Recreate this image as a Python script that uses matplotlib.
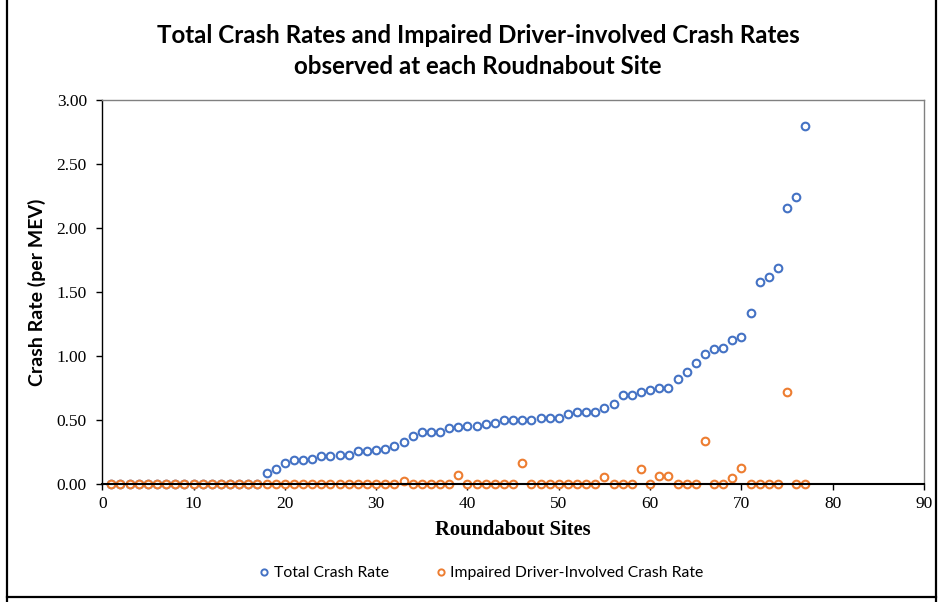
import matplotlib
matplotlib.use("Agg")
import matplotlib.pyplot as plt
from matplotlib.lines import Line2D

sites = list(range(1, 78))
total_rate = [0.0] * 17 + [
    0.09, 0.12, 0.17, 0.19, 0.19, 0.20, 0.22, 0.22, 0.23, 0.23,
    0.26, 0.26, 0.27, 0.28, 0.30, 0.33, 0.38, 0.41, 0.41, 0.41,
    0.44, 0.445, 0.455, 0.46, 0.47, 0.48, 0.50, 0.50, 0.505, 0.505,
    0.52, 0.52, 0.52, 0.55, 0.565, 0.565, 0.565, 0.60, 0.625, 0.70,
    0.70, 0.725, 0.74, 0.75, 0.75, 0.82, 0.875, 0.95, 1.02, 1.06,
    1.065, 1.13, 1.15, 1.34, 1.58, 1.62, 1.69, 2.16, 2.24, 2.80,
]
impaired_nonzero = {33: 0.03, 39: 0.075, 46: 0.17, 55: 0.055, 59: 0.12,
                    61: 0.07, 62: 0.07, 66: 0.34, 69: 0.05, 70: 0.13, 75: 0.72}
impaired_rate = [impaired_nonzero.get(s, 0.0) for s in sites]

x_ticks = [0, 10, 20, 30, 40, 50, 60, 70, 80, 90]
y_ticks = [0.0, 0.5, 1.0, 1.5, 2.0, 2.5, 3.0]

title = "Total Crash Rates and Impaired Driver-involved Crash Rates\nobserved at each Roudnabout Site"
series_names = ["Total Crash Rate", "Impaired Driver-Involved Crash Rate"]
blue = "#4472C4"
orange = "#ED7D31"

fig = plt.figure(figsize=(9.41, 6.02), dpi=100)
ax = fig.add_axes([0.1086, 0.1952, 0.8734, 0.6387])

mk = dict(linestyle="none", marker="o", markersize=5.5, markerfacecolor="white",
          markeredgewidth=1.5, clip_on=False)
ax.plot(sites, total_rate, markeredgecolor=blue, **mk)
ax.plot(sites, impaired_rate, markeredgecolor=orange, **mk)

ax.set_xlim(0, 90)
ax.set_ylim(0, 3.0)
ax.set_xticks(x_ticks)
ax.set_yticks(y_ticks)
ax.set_yticklabels([f"{v:.2f}" for v in y_ticks])

serif = "Liberation Serif"
for lab in ax.get_xticklabels() + ax.get_yticklabels():
    lab.set_fontfamily(serif)
    lab.set_fontsize(12.5)
ax.tick_params(direction="out", length=4, width=1, colors="black")
ax.tick_params(axis="y", pad=7)
ax.tick_params(axis="x", pad=4)

ax.spines["left"].set_color("black")
ax.spines["bottom"].set_color("black")
ax.spines["bottom"].set_linewidth(1.5)
ax.spines["left"].set_linewidth(1.0)
ax.spines["top"].set_color("#808080")
ax.spines["right"].set_color("#808080")
ax.spines["top"].set_linewidth(1.0)
ax.spines["right"].set_linewidth(1.0)

ax.set_xlabel("Roundabout Sites", fontfamily=serif, fontweight="bold", fontsize=14.8, labelpad=6)
ax.set_ylabel("Crash Rate (per MEV)", fontfamily="Lato", fontweight="bold", fontsize=14, labelpad=8)

fig.text(0.508, 0.915, title, ha="center", va="center", fontfamily="Lato",
         fontweight="bold", fontsize=17.4, linespacing=1.42)

handles = [Line2D([], [], linestyle="none", marker="o", markersize=4.5,
                  markerfacecolor="white", markeredgewidth=1.4, markeredgecolor=c)
           for c in (blue, orange)]
fig.legend(handles, series_names, loc="center", bbox_to_anchor=(0.51, 0.048),
           ncol=2, frameon=False, prop={"family": "Lato", "size": 11.3},
           handletextpad=0.1, columnspacing=2.8, handlelength=1.0)

# outer chart frame
for xs, ys in (([0.0075, 0.0075], [0.0, 1.0]), ([0.9945, 0.9945], [0.0, 1.0]),
               ([0.0075, 0.9945], [0.0085, 0.0085])):
    fig.add_artist(Line2D(xs, ys, color="black", linewidth=1.6, transform=fig.transFigure))

fig.savefig("out.png", dpi=100)
